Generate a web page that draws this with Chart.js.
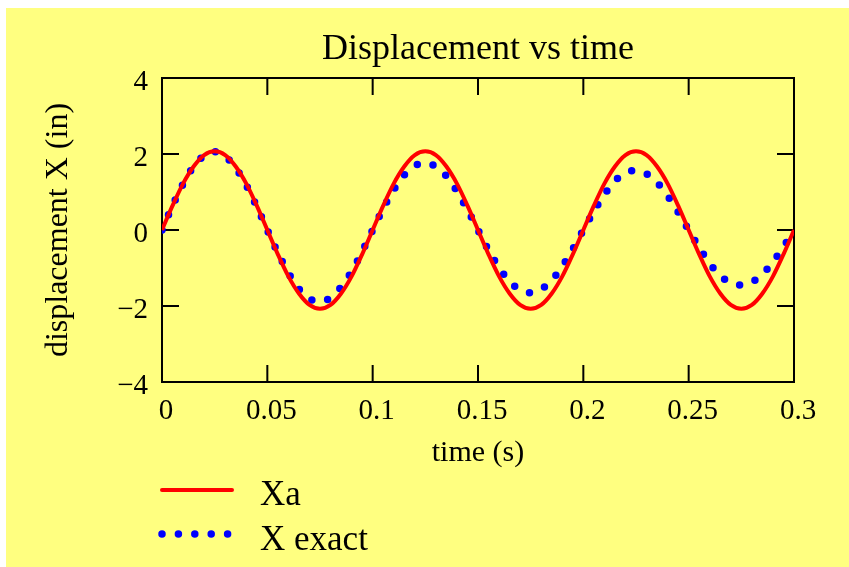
<!DOCTYPE html>
<html><head><meta charset="utf-8">
<script src="https://cdn.jsdelivr.net/npm/chart.js@4.4.0/dist/chart.umd.min.js"></script>
<style>html,body{margin:0;padding:0;background:#fff;} #wrap{width:849px;height:567px;}</style>
</head><body><div id="wrap"><canvas id="c" width="849" height="567"></canvas></div>
<script>
const timeValues = [0,0.005,0.01,0.015,0.02,0.025,0.03,0.035,0.04,0.045,0.05,0.055,0.06,0.065,0.07,0.075,0.08,0.085,0.09,0.095,
  0.1,0.105,0.11,0.115,0.12,0.125,0.13,0.135,0.14,0.145,0.15,0.155,0.16,0.165,0.17,0.175,0.18,0.185,0.19,0.195,
  0.2,0.205,0.21,0.215,0.22,0.225,0.23,0.235,0.24,0.245,0.25,0.255,0.26,0.265,0.27,0.275,0.28,0.285,0.29,0.295,0.3];
const xaValues = [0,0.64,1.22,1.67,1.97,2.07,1.97,1.67,1.22,0.64,0,-0.64,-1.22,-1.67,-1.97,-2.07,-1.97,-1.67,-1.22,-0.64,
  0,0.64,1.22,1.67,1.97,2.07,1.97,1.67,1.22,0.64,0,-0.64,-1.22,-1.67,-1.97,-2.07,-1.97,-1.67,-1.22,-0.64,
  0,0.64,1.22,1.67,1.97,2.07,1.97,1.67,1.22,0.64,0,-0.64,-1.22,-1.67,-1.97,-2.07,-1.97,-1.67,-1.22,-0.64,0];
const xExactValues = [0,0.64,1.21,1.67,1.96,2.06,1.94,1.63,1.18,0.61,0,-0.60,-1.13,-1.55,-1.81,-1.88,-1.78,-1.50,-1.09,-0.57,
  0,0.56,1.06,1.45,1.69,1.77,1.67,1.42,1.02,0.53,0,-0.53,-0.99,-1.35,-1.58,-1.65,-1.56,-1.32,-0.96,-0.50,
  0,0.49,0.93,1.29,1.50,1.57,1.48,1.25,0.90,0.47,0,-0.46,-0.88,-1.20,-1.39,-1.45,-1.37,-1.16,-0.84,-0.44,-0.03];
const xTickLabels = ['0','0.05','0.1','0.15','0.2','0.25','0.3'];
const yTickLabels = ['\u22124','\u22122','0','2','4'];
const seriesNames = ['Xa','X exact'];
const titleText = 'Displacement vs time';
const xTitle = 'time (s)';
const yTitle = 'displacement X (in)';

const FONT = '"Liberation Serif", "Times New Roman", serif';

const bgPlugin = {
  id: 'bg',
  beforeDraw(chart) {
    const ctx = chart.ctx;
    ctx.save();
    ctx.fillStyle = '#ffffff';
    ctx.fillRect(0, 0, chart.width, chart.height);
    ctx.fillStyle = '#ffff80';
    ctx.fillRect(6, 8, chart.width - 6, chart.height - 8);
    ctx.restore();
  }
};

const framePlugin = {
  id: 'frame',
  beforeDatasetsDraw(chart) {
    const ctx = chart.ctx;
    const a = chart.chartArea;
    const xs = chart.scales.x, ys = chart.scales.y;
    const TL = 17;
    ctx.save();
    ctx.strokeStyle = '#000';
    ctx.lineWidth = 2;
    ctx.strokeRect(a.left, a.top, a.right - a.left, a.bottom - a.top);
    ctx.beginPath();
    xs.ticks.forEach(t => {
      if (t.value <= xs.min || t.value >= xs.max) return;
      const px = xs.getPixelForValue(t.value);
      ctx.moveTo(px, a.bottom); ctx.lineTo(px, a.bottom - TL);
      ctx.moveTo(px, a.top); ctx.lineTo(px, a.top + TL);
    });
    ys.ticks.forEach(t => {
      if (t.value <= ys.min || t.value >= ys.max) return;
      const py = ys.getPixelForValue(t.value);
      ctx.moveTo(a.left, py); ctx.lineTo(a.left + TL, py);
      ctx.moveTo(a.right, py); ctx.lineTo(a.right - TL, py);
    });
    ctx.stroke();
    ctx.restore();
  }
};

const legendPlugin = {
  id: 'customLegend',
  afterDraw(chart) {
    const ctx = chart.ctx;
    const ds = chart.data.datasets;
    ctx.save();
    ctx.strokeStyle = ds[0].borderColor;
    ctx.lineWidth = ds[0].borderWidth;
    ctx.lineCap = 'round';
    ctx.beginPath(); ctx.moveTo(162, 490); ctx.lineTo(232, 490); ctx.stroke();
    ctx.strokeStyle = ds[1].borderColor;
    ctx.lineWidth = ds[1].borderWidth;
    ctx.setLineDash([0, 16.4]);
    ctx.beginPath(); ctx.moveTo(162, 534); ctx.lineTo(229, 534); ctx.stroke();
    ctx.setLineDash([]);
    ctx.fillStyle = '#000';
    ctx.font = '35px ' + FONT;
    ctx.textBaseline = 'alphabetic';
    ctx.textAlign = 'left';
    ctx.fillText(ds[0].label, 260, 505);
    ctx.fillText(ds[1].label, 260, 550);
    ctx.restore();
  }
};

new Chart(document.getElementById('c'), {
  type: 'line',
  data: {
    datasets: [
      {
        label: seriesNames[0],
        data: timeValues.map((t, i) => ({x: t, y: xaValues[i]})),
        borderColor: '#ff0000',
        borderWidth: 4,
        pointRadius: 0,
        cubicInterpolationMode: 'monotone',
        fill: false
      },
      {
        label: seriesNames[1],
        data: timeValues.map((t, i) => ({x: t, y: xExactValues[i]})),
        borderColor: '#0000ff',
        borderWidth: 7.5,
        borderDash: [0, 16.4],
        borderCapStyle: 'round',
        pointRadius: 0,
        cubicInterpolationMode: 'monotone',
        fill: false
      }
    ]
  },
  options: {
    responsive: false,
    animation: false,
    devicePixelRatio: 1,
    layout: { padding: { left: 0, right: 55, top: 0, bottom: 85 } },
    plugins: {
      legend: { display: false },
      tooltip: { enabled: false },
      title: {
        display: true,
        text: titleText,
        fullSize: false,
        color: '#000',
        font: { family: FONT, size: 36, weight: 'normal' },
        padding: { top: 28, bottom: 6.8 }
      }
    },
    scales: {
      x: {
        type: 'linear',
        min: 0, max: 0.3,
        grid: { display: false, drawTicks: false },
        border: { display: false },
        ticks: {
          stepSize: 0.05,
          padding: 12,
          labelOffset: 4,
          maxRotation: 0,
          autoSkip: false,
          color: '#000',
          font: { family: FONT, size: 29 },
          callback: (v, i) => xTickLabels[i]
        },
        title: {
          display: true, text: xTitle, color: '#000',
          font: { family: FONT, size: 30 },
          padding: { top: 0, bottom: 11 }
        },
        afterFit: s => { s.height = 100; }
      },
      y: {
        min: -4, max: 4,
        grid: { display: false, drawTicks: false },
        border: { display: false },
        ticks: {
          stepSize: 2,
          padding: 14,
          labelOffset: 4,
          color: '#000',
          font: { family: FONT, size: 29 },
          callback: (v, i) => yTickLabels[i]
        },
        title: {
          display: true, text: yTitle, color: '#000',
          font: { family: FONT, size: 32 },
          padding: { top: 39, bottom: 0 }
        },
        afterFit: s => { s.width = 162; }
      }
    }
  },
  plugins: [bgPlugin, framePlugin, legendPlugin]
});
</script>
</body></html>
